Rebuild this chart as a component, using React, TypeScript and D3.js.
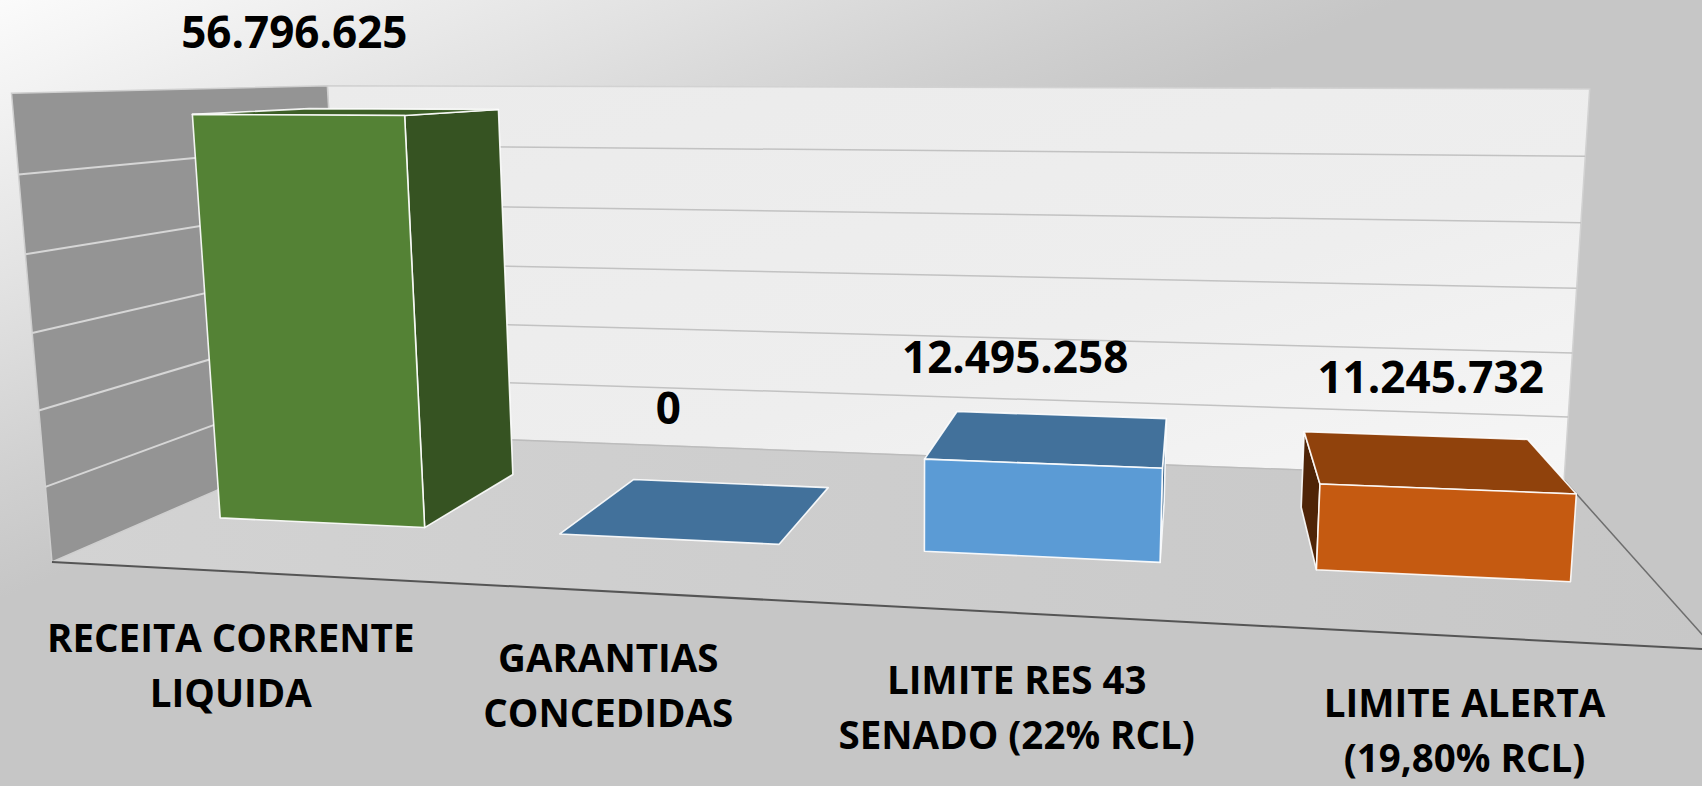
import React from 'react';
import * as d3 from 'd3';

// ---------------- data ----------------
const categoryLines: string[][] = [
  ['RECEITA CORRENTE', 'LIQUIDA'],
  ['GARANTIAS', 'CONCEDIDAS'],
  ['LIMITE RES 43', 'SENADO (22% RCL)'],
  ['LIMITE ALERTA', '(19,80% RCL)'],
];
const values: number[] = [56796625, 0, 12495258, 11245732];
const barColors: string[] = ['#548235', '#5b9bd5', '#5b9bd5', '#c55a11'];
const yTicks: number[] = [0, 10000000, 20000000, 30000000, 40000000, 50000000, 60000000];

// ---------------- layout ----------------
const W = 1702;
const H = 786;
// screen positions of the plot box corners (category units, value fraction, depth: 0 back / 1 front)
const frameCorners: { p: number[]; s: number[] }[] = [
  { p: [0, 1, 0], s: [326, 87] },
  { p: [4, 1, 0], s: [1590, 91] },
  { p: [4, 0, 0], s: [1565, 473] },
  { p: [0, 0, 0], s: [347, 437] },
  { p: [0, 1, 1], s: [13, 89] },
  { p: [0, 0, 1], s: [52, 560] },
  { p: [4, 0, 1], s: [1714, 657] },
];
const barDepth: [number, number] = [0.3, 0.7];
const shade: Record<string, number> = { front: 1, top: 0.73, right: 0.64, left: 0.4, back: 0.5, bottom: 0.5 };
// screen nudges of the labels (px)
const valueLabelNudge: number[][] = [[-3, -22], [0, -17], [-27, 0], [-16, 0]];
const catLabelNudge: number[] = [-1.5, -6, -11, -12];

const ptBR = d3.formatLocale({ decimal: ',', thousands: '.', grouping: [3], currency: ['R$', ''] });
const fmt = ptBR.format(',d');

function fitCamera(refs: { p: number[]; s: number[] }[]) {
  const S = 1000;
  const rows: number[][] = [];
  const rhs: number[] = [];
  refs.forEach(({ p: [X, Y, Z], s: [u0, v0] }) => {
    const u = u0 / S, v = v0 / S;
    rows.push([X, Y, Z, 1, 0, 0, 0, 0, -u * X, -u * Y, -u * Z]); rhs.push(u);
    rows.push([0, 0, 0, 0, X, Y, Z, 1, -v * X, -v * Y, -v * Z]); rhs.push(v);
  });
  const n = 11;
  const M = Array.from({ length: n }, () => new Array(n + 1).fill(0));
  rows.forEach((r, k) => {
    for (let i = 0; i < n; i++) {
      for (let j = 0; j < n; j++) M[i][j] += r[i] * r[j];
      M[i][n] += r[i] * rhs[k];
    }
  });
  for (let c = 0; c < n; c++) {
    let piv = c;
    for (let r = c + 1; r < n; r++) if (Math.abs(M[r][c]) > Math.abs(M[piv][c])) piv = r;
    const tmp = M[c]; M[c] = M[piv]; M[piv] = tmp;
    for (let r = 0; r < n; r++) {
      if (r === c) continue;
      const f = M[r][c] / M[c][c];
      for (let j = c; j <= n; j++) M[r][j] -= f * M[c][j];
    }
  }
  const q = M.map((row, i) => row[n] / row[i]);
  const P = [
    [q[0] * S, q[1] * S, q[2] * S, q[3] * S],
    [q[4] * S, q[5] * S, q[6] * S, q[7] * S],
    [q[8], q[9], q[10], 1],
  ];
  const project = (X: number, Y: number, Z: number): [number, number] => {
    const w = P[2][0] * X + P[2][1] * Y + P[2][2] * Z + P[2][3];
    return [
      (P[0][0] * X + P[0][1] * Y + P[0][2] * Z + P[0][3]) / w,
      (P[1][0] * X + P[1][1] * Y + P[1][2] * Z + P[1][3]) / w,
    ];
  };
  const A = P.map((r) => [r[0], r[1], r[2]]);
  const b = P.map((r) => -r[3]);
  const det3 = (m: number[][]) =>
    m[0][0] * (m[1][1] * m[2][2] - m[1][2] * m[2][1]) -
    m[0][1] * (m[1][0] * m[2][2] - m[1][2] * m[2][0]) +
    m[0][2] * (m[1][0] * m[2][1] - m[1][1] * m[2][0]);
  const D = det3(A);
  const cam = [0, 1, 2].map((k) => det3(A.map((r, i) => r.map((v, j) => (j === k ? b[i] : v)))) / D);
  return { project, cam };
}

const { project, cam } = fitCamera(frameCorners);

const xBand = d3.scaleBand<number>().domain(d3.range(values.length)).range([0, 4])
  .paddingInner(0.39).paddingOuter(0.195).align(0.474);
const xCat = d3.scaleBand<number>().domain(d3.range(values.length)).range([0, 4]);
const yScale = d3.scaleLinear().domain([0, yTicks[yTicks.length - 1]]).range([0, 1]);

const poly = (pts: number[][]) => {
  const line = d3.line();
  return line(pts.map(([X, Y, Z]) => project(X, Y, Z)) as [number, number][]) + 'Z';
};
const seg = (a: number[], b: number[]) => {
  const [x1, y1] = project(a[0], a[1], a[2]);
  const [x2, y2] = project(b[0], b[1], b[2]);
  return { x1, y1, x2, y2 };
};
const tint = (c: string, k: number) => {
  const r = d3.rgb(c);
  return d3.rgb(r.r * k, r.g * k, r.b * k).formatHex();
};

export default function App() {
  const bars = values.map((v, i) => {
    const x0 = xBand(i)!;
    const x1 = x0 + xBand.bandwidth();
    const y0 = 0;
    const y1 = yScale(v);
    const [z0, z1] = barDepth;
    const faces: { key: string; pts: number[][]; vis: boolean }[] = [
      { key: 'back', pts: [[x0, y0, z0], [x1, y0, z0], [x1, y1, z0], [x0, y1, z0]], vis: cam[2] < z0 },
      { key: 'bottom', pts: [[x0, y0, z0], [x1, y0, z0], [x1, y0, z1], [x0, y0, z1]], vis: cam[1] < y0 },
      { key: 'left', pts: [[x0, y0, z0], [x0, y0, z1], [x0, y1, z1], [x0, y1, z0]], vis: cam[0] < x0 && y1 > y0 },
      { key: 'right', pts: [[x1, y0, z0], [x1, y0, z1], [x1, y1, z1], [x1, y1, z0]], vis: cam[0] > x1 && y1 > y0 },
      { key: 'top', pts: [[x0, y1, z1], [x1, y1, z1], [x1, y1, z0], [x0, y1, z0]], vis: cam[1] > y1 },
      { key: 'front', pts: [[x0, y0, z1], [x1, y0, z1], [x1, y1, z1], [x0, y1, z1]], vis: cam[2] > z1 && y1 > y0 },
    ];
    const xc = (x0 + x1) / 2;
    const [ax] = project(xc, y1, z1);
    const topY = d3.min(faces.filter((f) => f.vis).flatMap((f) => f.pts.map((p) => project(p[0], p[1], p[2])[1])))!;
    return { i, v, faces, ax, topY, color: barColors[i] };
  });

  const cats = categoryLines.map((lines, i) => {
    const xc = xCat(i)! + xCat.bandwidth() / 2;
    const [px, py] = project(xc, 0, 1);
    return { lines, px: px + catLabelNudge[i], py };
  });

  return (
    <svg width={W} height={H} style={{ position: 'absolute', left: 0, top: 0, display: 'block' }}
      fontFamily="'Open Sans', sans-serif">
      <defs>
        <linearGradient id="bg" gradientUnits="userSpaceOnUse" x1={0} y1={0} x2={217} y2={507}>
          <stop offset="0" stopColor="#fbfbfb" />
          <stop offset="0.5" stopColor="#e1e1e1" />
          <stop offset="0.8" stopColor="#d0d0d0" />
          <stop offset="1" stopColor="#c6c6c6" />
        </linearGradient>
        <linearGradient id="backwall" x1="0" y1="0" x2="1" y2="1">
          <stop offset="0" stopColor="#ebebeb" />
          <stop offset="0.6" stopColor="#eeeeee" />
          <stop offset="1" stopColor="#f6f6f6" />
        </linearGradient>
        <linearGradient id="floor" x1="0" y1="0" x2="1" y2="0">
          <stop offset="0" stopColor="#d3d3d3" />
          <stop offset="1" stopColor="#c7c7c7" />
        </linearGradient>
      </defs>
      <rect x={0} y={0} width={W} height={H} fill="url(#bg)" />
      {/* floor */}
      <path d={poly([[0, 0, 0], [4, 0, 0], [4, 0, 1], [0, 0, 1]])} fill="url(#floor)" />
      {/* back wall */}
      <path d={poly([[0, 0, 0], [4, 0, 0], [4, 1, 0], [0, 1, 0]])} fill="url(#backwall)" stroke="#d2d2d2" strokeWidth={1.5} />
      {/* side wall */}
      <path d={poly([[0, 0, 1], [0, 0, 0], [0, 1, 0], [0, 1, 1]])} fill="#949494" stroke="#cfcfcf" strokeWidth={1.5} />
      {/* gridlines */}
      {yTicks.slice(1, -1).map((t) => {
        const y = yScale(t);
        const a = seg([0, y, 0], [4, y, 0]);
        const b = seg([0, y, 1], [0, y, 0]);
        return (
          <g key={t}>
            <line {...a} stroke="#c2c2c2" strokeWidth={1.5} />
            <line {...b} stroke="#d6d6d6" strokeWidth={2} />
          </g>
        );
      })}
      {/* floor edges */}
      <line {...seg([0, 0, 0], [4, 0, 0])} stroke="#bcbcbc" strokeWidth={1.5} />
      <line {...seg([4, 0, 0], [4, 0, 1])} stroke="#6e6e6e" strokeWidth={1.5} />
      <line {...seg([0, 0, 1], [4, 0, 1])} stroke="#555555" strokeWidth={2} />
      {/* bars */}
      {bars.map((b) => (
        <g key={b.i}>
          {b.faces.filter((f) => f.vis).map((f) => (
            <path key={f.key} d={poly(f.pts)} fill={tint(b.color, shade[f.key])}
              stroke="#ffffff" strokeOpacity={0.9} strokeWidth={1.6} strokeLinejoin="round" />
          ))}
        </g>
      ))}
      {/* data labels */}
      {bars.map((b) => (
        <text key={b.i} x={b.ax + valueLabelNudge[b.i][0]}
          y={Math.max(b.topY - 39 + valueLabelNudge[b.i][1], 47)} textAnchor="middle"
          fontWeight={700} fontSize={44} fill="#000">{fmt(b.v)}</text>
      ))}
      {/* category labels */}
      {cats.map((c, i) => (
        <text key={i} textAnchor="middle" fontWeight={700} fontSize={38.5} fill="#000">
          {c.lines.map((l, k) => (
            <tspan key={k} x={c.px} y={c.py + 80 + k * 55}>{l}</tspan>
          ))}
        </text>
      ))}
    </svg>
  );
}
